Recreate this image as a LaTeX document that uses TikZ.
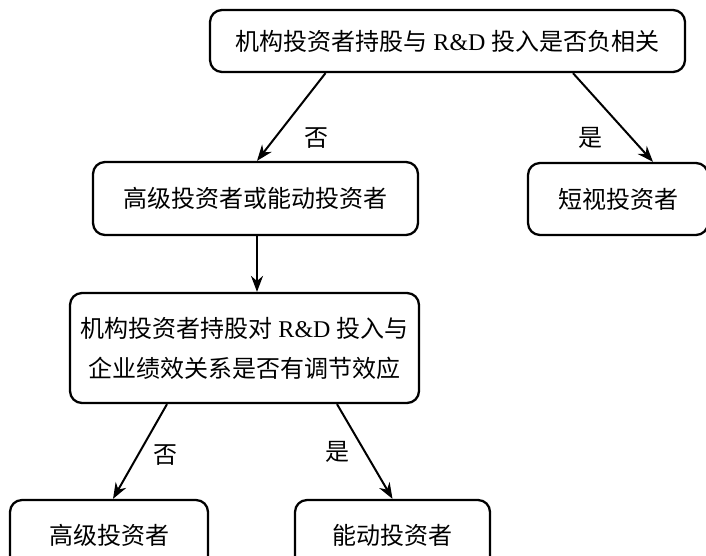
\documentclass[tikz,border=0pt]{standalone}
\usepackage{fontspec}
\setmainfont{Liberation Serif}
\newfontfamily\cjk{Noto Sans CJK SC}
\usetikzlibrary{calc,arrows.meta}

\tikzset{
  box/.style={draw, line width=1.7pt, rounded corners=9pt, align=center,
    inner sep=0pt, font=\fontsize{18}{30}\selectfont},
  arr/.style={line width=1.5pt, -{Stealth[length=12pt,width=9pt]}},
  lab/.style={font=\fontsize{18}{22}\selectfont\cjk}
}

\begin{document}
\begin{tikzpicture}[x=0.75pt,y=-0.75pt]
  \useasboundingbox (0,0) rectangle (706,556);
  \clip (0,0) rectangle (706,556);
  % boxes
  \node[box, minimum width=475*0.75pt, minimum height=62*0.75pt] (top) at (447.5,41)
    {{\cjk 机构投资者持股与} R\&D {\cjk 投入是否负相关}};
  \node[box, minimum width=325*0.75pt, minimum height=73*0.75pt] (mid) at (255.5,198.5)
    {\cjk 高级投资者或能动投资者};
  \node[box, minimum width=180*0.75pt, minimum height=72*0.75pt] (myopic) at (618,199)
    {\cjk 短视投资者};
  \node[box, minimum width=349*0.75pt, minimum height=110*0.75pt] (q) at (244.5,348)
    {{\cjk 机构投资者持股对} R\&D {\cjk 投入与}\\{\cjk 企业绩效关系是否有调节效应}};
  \node[box, minimum width=198*0.75pt, minimum height=70*0.75pt] (senior) at (109,535)
    {\cjk 高级投资者};
  \node[box, minimum width=195*0.75pt, minimum height=70*0.75pt] (active) at (392.5,535)
    {\cjk 能动投资者};
  % arrows
  \draw[arr] ($(top.south)+(-122,0)$) -- ($(mid.north)+(1.5,0)$);
  \draw[arr] ($(top.south)+(125.5,0)$) -- ($(myopic.north)+(35,0)$);
  \draw[arr] ($(mid.south)+(1.5,0)$) -- ($(q.north)+(12.5,0)$);
  \draw[arr] ($(q.south)+(-77.5,0)$) -- ($(senior.north)+(4,0)$);
  \draw[arr] ($(q.south)+(92.5,0)$) -- (active.north);
  % labels
  \node[lab] (no1) at (316,138) {否};
  \node[lab] (yes1) at (590,138) {是};
  \node[lab] (no2) at (165,455) {否};
  \node[lab] (yes2) at (337,452) {是};
\end{tikzpicture}
\end{document}
